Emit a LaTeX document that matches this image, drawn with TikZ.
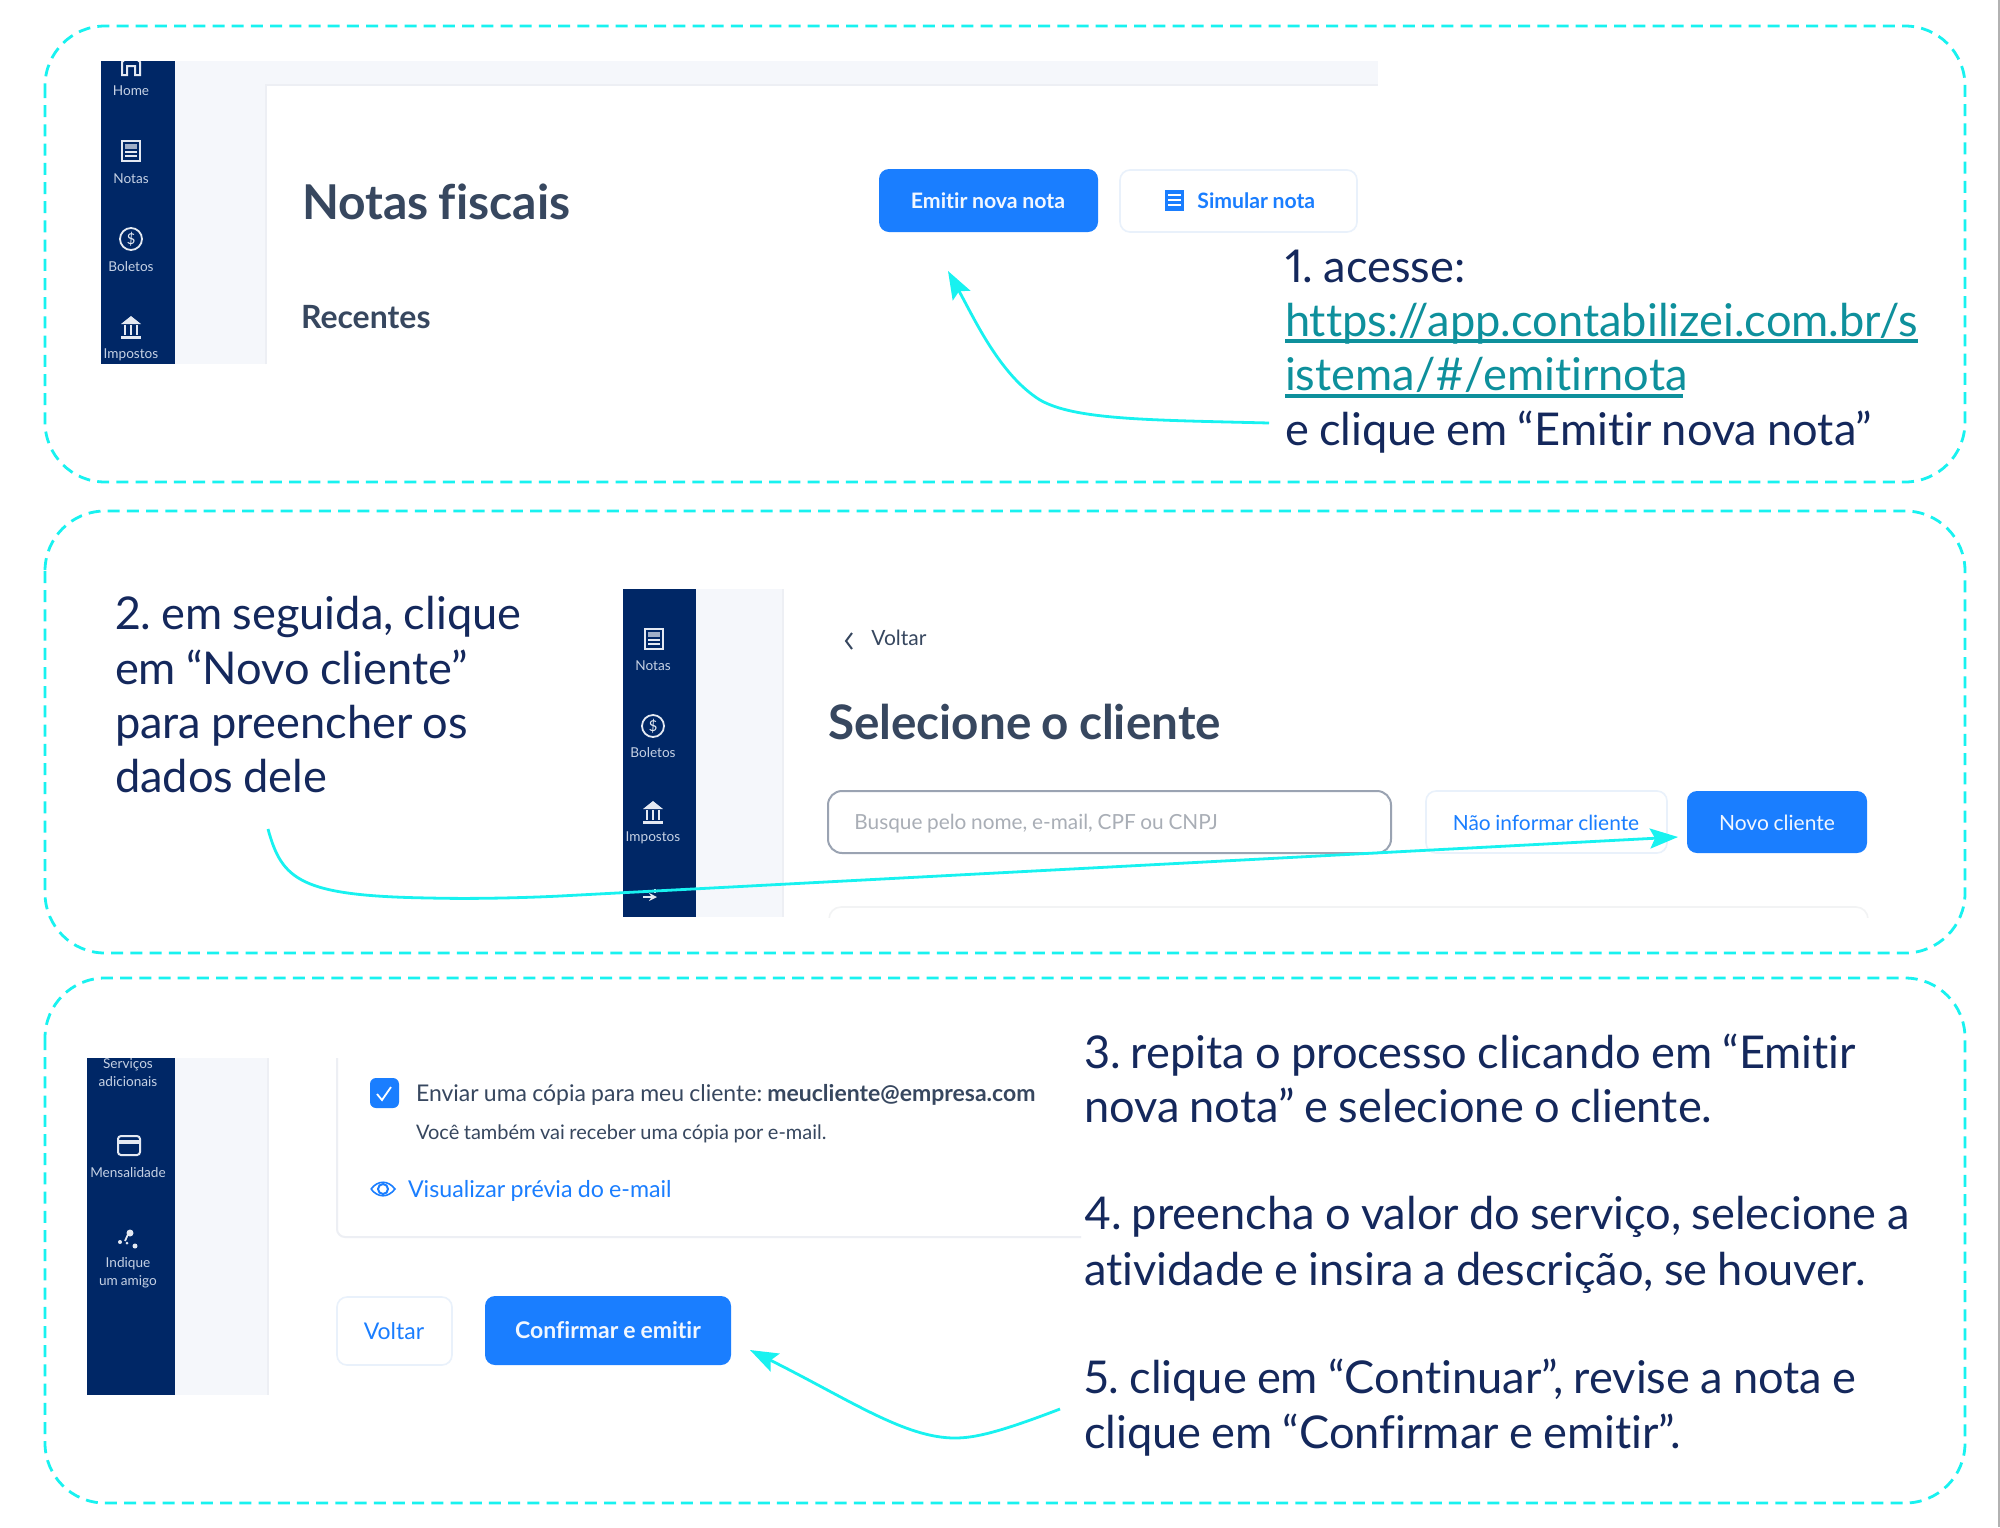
\documentclass[tikz,border=0pt]{standalone}
\usepackage{fontspec}
\setmainfont{Lato}[Ligatures=NoCommon,Numbers=Proportional,WordSpace=0.88]
\AtBeginDocument{\frenchspacing}
\usetikzlibrary{arrows.meta}
\definecolor{cy}{HTML}{18F2F0}
\definecolor{navy}{HTML}{002766}
\definecolor{pale}{HTML}{F5F7FB}
\definecolor{palee}{HTML}{EDEFF4}
\definecolor{btn}{HTML}{1A7EFF}
\definecolor{ink}{HTML}{14285C}
\definecolor{head}{HTML}{37475F}
\definecolor{teal}{HTML}{0E909C}
\definecolor{side}{HTML}{C6D1E4}
\definecolor{edge}{HTML}{E9F1FB}
\definecolor{inp}{HTML}{9AA3B2}
\definecolor{place}{HTML}{A9AEB6}
\definecolor{icn}{HTML}{E4E9F2}
\newcommand{\fsz}[1]{\fontsize{#1}{#1}\selectfont}
\tikzset{
 x=0.5pt,y=-0.5pt,
 panel/.style={draw=cy,line width=1.4pt,dash pattern=on 6pt off 3.6pt,rounded corners=30pt},
 txt/.style={anchor=base west,inner sep=0pt,outer sep=0pt},
 steptext/.style={txt,text=ink,font=\fsz{22.6}},
 sidelab/.style={anchor=center,inner sep=0pt,text=side,font=\fsz{6.8}},
 ico/.style={draw=icn,line width=0.7pt,fill=none},
 conn/.style={draw=cy,line width=1.4pt,-{Stealth[length=14pt,width=10pt,inset=2.5pt]}},
 mainbtn/.style={fill=btn,rounded corners=5pt},
 ghostbtn/.style={draw=edge,fill=white,line width=0.8pt,rounded corners=5pt},
 blab/.style={anchor=center,inner sep=0pt,text=white!94!btn,font=\fsz{10.65}\bfseries},
 glab/.style={anchor=center,inner sep=0pt,text=btn,font=\fsz{10.45}},
}
\newcommand{\notaicon}[1]{\draw[ico,line width=0.9pt] (#1) ++(-9,-10) rectangle ++(18,20);
 \fill[icn!70!navy] (#1) ++(-6,-7) rectangle ++(12,5);
 \foreach \d in {1,5}{\draw[icn,line width=0.7pt] (#1) ++(-6,\d) -- ++(12,0);}}
\newcommand{\dollaricon}[1]{\draw[ico,line width=0.9pt] (#1) circle[radius=11];
 \node[inner sep=0pt,text=icn,font=\fsz{7.5}] at (#1) {\$};}
\newcommand{\bankicon}[1]{\fill[icn] (#1) ++(-10,-3) -- ++(10,-8) -- ++(10,8) -- cycle;
 \fill[icn] (#1) ++(-10,9) rectangle ++(20,2.5);
 \foreach \d in {-6,0,6}{\draw[icn,line width=0.7pt] (#1) ++(\d,-2) -- ++(0,10);}}
\begin{document}
\begin{tikzpicture}
\useasboundingbox (0,0) rectangle (2000,1527);
\fill[white] (0,0) rectangle (2000,1527);
% panels
\path[panel] (45,26) rectangle (1965,482);
\path[panel] (45,511) rectangle (1965,953);
\path[panel] (45,978) rectangle (1965,1503);
% screen 1
\fill[pale] (175,61) rectangle (1378,85);
\fill[pale] (175,85) rectangle (266,364);
\draw[palee,line width=0.7pt] (266,364) -- (266,85) -- (1378,85);
\fill[navy] (101,61) rectangle (175,364);
\begin{scope}
\clip (101,61) rectangle (175,364);
\draw[ico,line width=1pt] (122,75) -- (122,62) -- (131,54) -- (140,62) -- (140,75) -- (135,75) -- (135,66) -- (127,66) -- (127,75) -- cycle;
\end{scope}
\node[sidelab] (h1) at (131,91) {Home};
\notaicon{131,151}
\node[sidelab] (n1) at (131,179) {Notas};
\dollaricon{131,239}
\node[sidelab] (b1) at (131,267) {Boletos};
\bankicon{131,327}
\node[sidelab] (i1) at (131,355) {Impostos};
\node[txt,text=head,font=\fsz{24}\bfseries] (nf) at (302,219) {Notas fiscais};
\node[txt,text=head,font=\fsz{16}\bfseries] (rec) at (301,328) {Recentes};
\path[mainbtn] (879,169) rectangle (1098,232);
\node[blab] (em) at (988,201) {Emitir nova nota};
\path[ghostbtn] (1120,170) rectangle (1357,232);
\fill[btn] (1165,190) rectangle (1184,211);
\foreach \d in {195,200,205}{\draw[white,line width=0.6pt] (1168,\d) -- (1181,\d);}
\node[anchor=west,inner sep=0pt,text=btn,font=\fsz{10.6}\bfseries] (sim) at (1197,201) {Simular nota};
% step 1
\node[steptext] (s1a) at (1285,282) {1. acesse:};
\node[steptext,text=teal] (s1b) at (1285,336) {https://app.contabilizei.com.br/s};
\node[steptext,text=teal] (s1c) at (1285,390) {istema/\#/emitirnota};
\node[steptext] (s1d) at (1285,445) {e clique em “Emitir nova nota”};
\fill[teal] (1285,339) rectangle (1918,343);
\fill[teal] (1285,394) rectangle (1683,398);
\coordinate (a1s) at (1269,423);
\coordinate (a1t) at (948,271);
\draw[conn] (a1s) .. controls (1150,420) and (1075,420) .. (1040,400) .. controls (1000,375) and (975,320) .. (a1t);
% screen 2
\fill[pale] (696,589) rectangle (783,917);
\draw[palee,line width=0.7pt] (783,589) -- (783,917);
\fill[navy] (622.5,589) rectangle (696,917);
\notaicon{654,639}
\node[sidelab] (n2) at (653,666) {Notas};
\dollaricon{653,726}
\node[sidelab] (b2) at (653,753) {Boletos};
\bankicon{653,812}
\node[sidelab] (i2) at (653,838) {Impostos};
\draw[icn,line width=0.8pt,-{Stealth[length=4pt,width=4pt]}] (643,897) -- (657,897);
\draw[icn,line width=0.7pt] (655,889) -- (655,893);
\draw[head,line width=1pt] (852,633) -- (846,641) -- (852,649);
\node[anchor=west,inner sep=0pt,text=head,font=\fsz{10.5}] (v2) at (871,638) {Voltar};
\node[txt,text=head,font=\fsz{23.8}\bfseries] (sc) at (828,739) {Selecione o cliente};
\begin{scope}
\clip (820,900) rectangle (1880,917);
\draw[edge!60!gray!20,line width=0.8pt,rounded corners=6pt] (829,930) -- (829,907) -- (1868,907) -- (1868,930);
\end{scope}
\draw[draw=inp,line width=1pt,fill=white,rounded corners=7pt] (828,791) rectangle (1391,853);
\node[anchor=west,inner sep=0pt,text=place,font=\fsz{10.4}] (bq) at (854,824) {Busque pelo nome, e-mail, CPF ou CNPJ};
\path[ghostbtn] (1426,791) rectangle (1667,853);
\node[glab] (nao) at (1546,823) {Não informar cliente};
\path[mainbtn] (1687,791) rectangle (1867,853);
\node[blab,font=\fsz{10.5}] (novo) at (1777,823) {Novo cliente};
\node[steptext] (s2a) at (115,629) {2. em seguida, clique};
\node[steptext] (s2b) at (115,684) {em “Novo cliente”};
\node[steptext] (s2c) at (115,738) {para preencher os};
\node[steptext] (s2d) at (115,792) {dados dele};
\coordinate (a2s) at (268,829);
\coordinate (a2t) at (1678,837);
\draw[conn] (a2s) .. controls (282,880) and (300,896) .. (430,898) .. controls (470,899) and (520,898) .. (560,896) -- (a2t);
% screen 3
\fill[pale] (175,1058) rectangle (268,1395);
\draw[palee,line width=0.7pt] (268,1058) -- (268,1395);
\fill[navy] (86.5,1058) rectangle (175,1395);
\node[sidelab] (sv) at (128,1065) {Serviços};
\node[sidelab] (ad) at (128,1082) {adicionais};
\draw[ico,line width=1pt,rounded corners=1.5pt] (118,1136) rectangle (140,1155);
\fill[icn] (118,1140) rectangle (140,1144);
\node[sidelab] (me) at (128,1173) {Mensalidade};
\draw[icn,line width=0.9pt] (129,1232) -- (125,1241);
\fill[icn] (130,1233) circle[radius=3.5] (120,1242) circle[radius=2] (135,1246) circle[radius=2.5] (127,1243) circle[radius=1.5];
\node[sidelab] (in) at (128,1264) {Indique};
\node[sidelab] (um) at (128,1282) {um amigo};
\draw[palee,line width=1pt,rounded corners=4pt] (337,1058) -- (337,1237) -- (1081,1237);
\fill[btn,rounded corners=3pt] (370,1078) rectangle (399,1108);
\draw[white,line width=0.9pt] (377,1094) -- (382,1100) -- (391,1087);
\node[txt,text=head,font=\fsz{11.5}] (e1) at (416,1101) {Enviar uma cópia para meu cliente: \textbf{meucliente@empresa.com}};
\node[txt,text=head,font=\fsz{10}] (e2) at (416,1139) {Você também vai receber uma cópia por e-mail.};
\draw[btn,line width=1pt] (383,1189) circle[radius=5];
\draw[btn,line width=0.8pt] (371,1189) .. controls (378,1180) and (388,1180) .. (395,1189) .. controls (388,1198) and (378,1198) .. (371,1189);
\node[txt,text=btn,font=\fsz{11.6}] (vp) at (408,1197) {Visualizar prévia do e-mail};
\path[ghostbtn] (337,1297) rectangle (452,1365);
\node[glab,font=\fsz{11.5}] (vo) at (394,1331) {Voltar};
\path[mainbtn] (485,1296) rectangle (731,1365);
\node[blab,font=\fsz{11.5}\bfseries] (cf) at (608,1330) {Confirmar e emitir};
\node[steptext] (s3a) at (1084,1068) {3. repita o processo clicando em “Emitir};
\node[steptext] (s3b) at (1084,1122) {nova nota” e selecione o cliente.};
\node[steptext] (s4a) at (1084,1229) {4. preencha o valor do serviço, selecione a};
\node[steptext] (s4b) at (1084,1285) {atividade e insira a descrição, se houver.};
\node[steptext] (s5a) at (1084,1393) {5. clique em “Continuar”, revise a nota e};
\node[steptext] (s5b) at (1084,1448) {clique em “Confirmar e emitir”.};
\coordinate (a3s) at (1060,1409);
\coordinate (a3t) at (750,1350);
\draw[conn] (a3s) .. controls (1000,1432) and (975,1438) .. (955,1438) .. controls (905,1438) and (850,1400) .. (a3t);
% edge
\fill[gray!60] (1998,0) rectangle (2000,1527);
\end{tikzpicture}
\end{document}
